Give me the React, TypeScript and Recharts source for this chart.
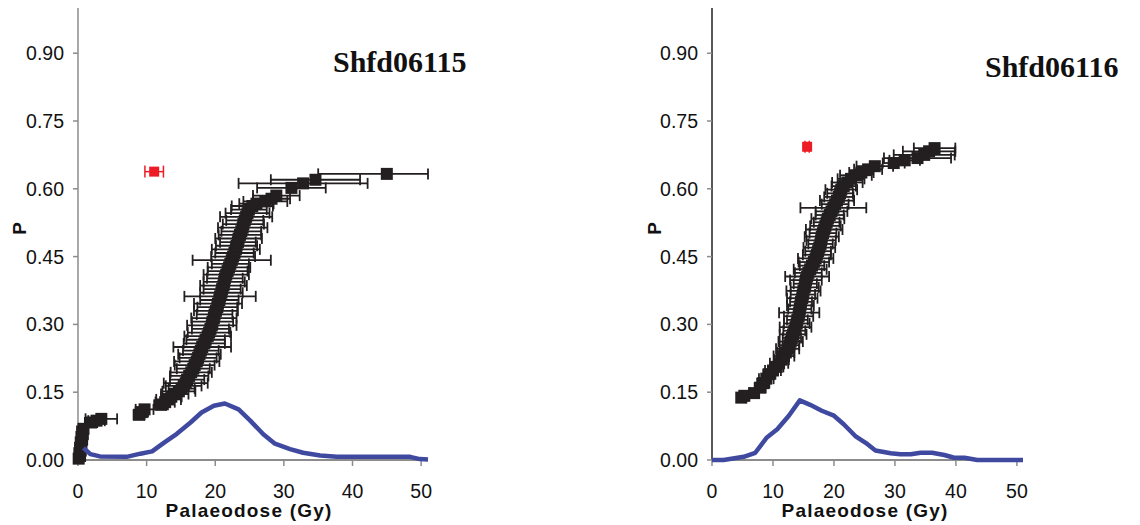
import React from 'react';
import { ScatterChart, Scatter, XAxis, YAxis, ErrorBar } from 'recharts';

// [dose (Gy), P, x error (± or [low, high])]
type Pt = [number, number, number | [number, number]];

const xTicks = [0, 10, 20, 30, 40, 50];
const yTicks = [0, 0.15, 0.3, 0.45, 0.6, 0.75, 0.9];

const points06115: Pt[] = [
  [0.1, 0.003, 0.1], [0.3, 0.009, 0.2], [0.2, 0.015, 0.2], [0.4, 0.021, 0.3], [0.3, 0.027, 0.3],
  [0.5, 0.033, 0.3], [0.4, 0.039, 0.3], [0.6, 0.045, 0.4], [0.5, 0.051, 0.4], [0.7, 0.057, 0.5],
  [0.6, 0.063, 0.5], [0.8, 0.069, 0.6],
  [1.9, 0.083, 0.9], [2.7, 0.087, 1.2], [3.4, 0.091, 2.3],
  [8.9, 0.1, 0.8], [9.3, 0.106, 0.9], [9.7, 0.112, 1.3],
  [12.1, 0.122, 1.0], [12.7, 0.128, 1.4], [13.2, 0.134, 1.8], [13.6, 0.14, 1.5], [14.1, 0.146, 2.0],
  [14.7, 0.152, 2.4], [15.1, 0.158, 1.9], [15.4, 0.164, 2.6], [15.7, 0.17, 3.2], [15.9, 0.178, 2.5],
  [16.2, 0.186, 2.8], [16.5, 0.194, 3.0], [16.8, 0.202, 2.4], [17.0, 0.21, 2.9], [17.3, 0.218, 3.3],
  [17.5, 0.226, 2.7], [17.7, 0.234, 3.1], [17.9, 0.242, 2.6], [18.1, 0.25, 4.2], [18.4, 0.258, 3.0],
  [18.6, 0.266, 2.8], [18.9, 0.274, 3.4], [19.1, 0.282, 3.1], [19.3, 0.29, 2.7], [19.5, 0.298, 3.6],
  [19.6, 0.306, 3.0], [19.8, 0.314, 3.3], [19.9, 0.322, 2.6], [20.1, 0.33, 3.2], [20.3, 0.338, 2.9],
  [20.4, 0.346, 3.5], [20.6, 0.354, 2.8], [20.7, 0.362, 5.2], [20.9, 0.37, 3.1], [21.0, 0.378, 2.7],
  [21.2, 0.386, 3.4], [21.3, 0.394, 3.0], [21.4, 0.402, 2.6], [21.6, 0.41, 3.3], [21.8, 0.418, 2.9],
  [22.0, 0.426, 3.1], [22.2, 0.434, 2.7], [22.4, 0.442, 5.7], [22.6, 0.45, 3.2], [22.8, 0.458, 2.8],
  [23.0, 0.466, 3.5], [23.1, 0.474, 3.0], [23.3, 0.482, 2.6], [23.4, 0.49, 3.4], [23.6, 0.498, 3.1],
  [23.8, 0.506, 2.9], [24.0, 0.514, 3.6], [24.1, 0.522, 3.0], [24.3, 0.53, 2.7], [24.5, 0.538, 3.8],
  [24.7, 0.546, 3.2], [24.9, 0.554, 2.6], [25.4, 0.562, 3.0], [26.0, 0.567, 2.5], [27.3, 0.572, 3.2],
  [28.2, 0.578, 2.7], [28.9, 0.585, 3.4], [31.1, 0.602, 5.0], [32.8, 0.612, 9.4], [34.6, 0.62, 6.5],
  [45.0, 0.633, [10, 6]],
];

const points06116: Pt[] = [
  [4.8, 0.138, 0.7], [5.3, 0.142, 0.6], [6.9, 0.148, 0.7], [7.9, 0.16, 0.9], [8.4, 0.17, 1.0],
  [8.9, 0.18, 1.2], [9.4, 0.19, 1.0], [10.0, 0.198, 1.3], [10.6, 0.206, 1.1], [11.0, 0.214, 1.5],
  [11.4, 0.222, 1.2], [11.8, 0.23, 1.7], [12.1, 0.238, 1.4], [12.4, 0.246, 1.9], [12.7, 0.254, 1.6],
  [12.9, 0.262, 2.0], [13.1, 0.27, 1.5], [13.3, 0.278, 2.2], [13.5, 0.286, 1.8], [13.7, 0.294, 2.6],
  [13.9, 0.302, 2.1], [14.0, 0.31, 1.7], [14.2, 0.318, 2.4], [14.3, 0.326, 3.3], [14.4, 0.334, 1.9],
  [14.5, 0.342, 2.2], [14.6, 0.35, 1.8], [14.8, 0.358, 2.5], [14.9, 0.366, 2.0], [15.0, 0.374, 2.8],
  [15.2, 0.382, 2.3], [15.3, 0.39, 1.9], [15.4, 0.398, 2.6], [15.6, 0.406, 3.6], [15.8, 0.414, 2.2],
  [16.1, 0.422, 2.7], [16.4, 0.43, 2.0], [16.7, 0.438, 2.5], [17.0, 0.446, 2.9], [17.2, 0.454, 2.3],
  [17.4, 0.462, 2.1], [17.6, 0.47, 2.6], [17.8, 0.478, 2.0], [17.9, 0.486, 2.4], [18.0, 0.494, 2.8],
  [18.2, 0.502, 2.2], [18.4, 0.51, 3.0], [18.6, 0.518, 2.5], [18.8, 0.526, 2.1], [19.0, 0.534, 2.7],
  [19.3, 0.542, 2.3], [19.6, 0.55, 2.6], [19.9, 0.558, 5.4], [20.2, 0.566, 2.2], [20.5, 0.574, 2.8],
  [20.8, 0.582, 2.4], [21.0, 0.59, 2.1], [21.2, 0.598, 2.6], [21.6, 0.606, 2.0], [22.2, 0.614, 2.5],
  [22.8, 0.622, 2.2], [23.6, 0.63, 2.6], [24.5, 0.636, 2.0], [25.6, 0.643, 2.3], [26.7, 0.65, 3.0],
  [29.8, 0.657, 1.8], [31.6, 0.663, 2.5], [33.7, 0.668, 5.5], [34.8, 0.675, 5.0], [35.6, 0.683, 4.3],
  [36.5, 0.69, 3.4],
];

const outlier06115: Pt[] = [[11.1, 0.638, 1.35]];
const outlier06116: Pt[] = [[15.6, 0.693, 0.35]];

// probability density curves
const curve06115: [number, number][] = [
  [0.8, 0.027], [1.8, 0.013], [3.2, 0.008], [7.1, 0.007], [9.1, 0.014], [10.8, 0.019], [12.5, 0.038],
  [14.4, 0.058], [16.4, 0.083], [18.0, 0.105], [19.8, 0.12], [21.4, 0.125], [23.4, 0.112], [25.1, 0.087],
  [27.0, 0.057], [28.7, 0.036], [30.9, 0.024], [32.8, 0.016], [35.3, 0.01], [37.7, 0.007], [40.1, 0.007],
  [48.4, 0.007], [49.8, 0.002], [51.0, 0.001],
];
const curve06116: [number, number][] = [
  [0, 0], [1.9, 0], [5.2, 0.007], [7.1, 0.016], [9.0, 0.05], [10.7, 0.068], [12.6, 0.098], [14.4, 0.132],
  [16.1, 0.122], [18.0, 0.109], [20.0, 0.098], [21.6, 0.079], [23.5, 0.053], [25.2, 0.038], [26.8, 0.021],
  [29.3, 0.015], [30.9, 0.0126], [32.6, 0.0126], [34.2, 0.016], [36.1, 0.016], [38.1, 0.011], [39.7, 0.005],
  [41.4, 0.005], [43.5, 0], [51.0, 0],
];

const toRows = (pts: Pt[]) => pts.map(([x, p, e]) => ({ x, p, e }));
const toCurve = (c: [number, number][]) => c.map(([x, p]) => ({ x, p }));

const square = (color: string, s: number) => (props: any) => (
  <rect x={props.cx - s / 2} y={props.cy - s / 2} width={s} height={s} fill={color} />
);

const tickFont = { fill: '#111', fontSize: 19.5, fontFamily: '"Liberation Sans", Arial, sans-serif' };

interface PanelProps {
  left: number;
  width: number;
  right: number;
  pts: Pt[];
  outlier: Pt[];
  curve: [number, number][];
  yAxisColor: string;
}

const Panel: React.FC<PanelProps> = ({ left, width, right, pts, outlier, curve, yAxisColor }) => (
  <div style={{ position: 'absolute', left, top: 0 }}>
    <ScatterChart width={width} height={525} margin={{ top: 8, right, bottom: 0, left: 0 }}>
      <XAxis
        type="number"
        dataKey="x"
        domain={[0, 51]}
        ticks={xTicks}
        interval={0}
        height={65}
        tickSize={6}
        tickMargin={18}
        axisLine={{ stroke: '#8c8c8c', strokeWidth: 2 }}
        tickLine={{ stroke: '#8c8c8c', strokeWidth: 1.5 }}
        tick={tickFont}
      />
      <YAxis
        type="number"
        dataKey="p"
        domain={[0, 1]}
        ticks={yTicks}
        interval={0}
        width={78}
        tickSize={5}
        tickMargin={9}
        tickFormatter={(v: number) => v.toFixed(2)}
        axisLine={{ stroke: yAxisColor, strokeWidth: 1.5 }}
        tickLine={{ stroke: '#8c8c8c', strokeWidth: 1.5 }}
        tick={tickFont}
      />
      <Scatter data={toRows(pts)} shape={square('#231f20', 12)} isAnimationActive={false}>
        <ErrorBar dataKey="e" direction="x" width={5.5} stroke="#231f20" strokeWidth={1.8} isAnimationActive={false} />
      </Scatter>
      <Scatter data={toRows(outlier)} shape={square('#ed1c24', 10)} isAnimationActive={false}>
        <ErrorBar dataKey="e" direction="x" width={6} stroke="#ed1c24" strokeWidth={1.5} isAnimationActive={false} />
      </Scatter>
      <Scatter
        data={toCurve(curve)}
        line={{ stroke: '#4049a0', strokeWidth: 4.5, strokeLinejoin: 'round', fill: 'none' }}
        lineJointType="linear"
        shape={() => <g />}
        isAnimationActive={false}
      />
    </ScatterChart>
  </div>
);

const labelFont = { fontFamily: '"Liberation Sans", Arial, sans-serif', fontWeight: 700, fontSize: 19 };
const titleFont = { fontFamily: '"Liberation Serif", "Times New Roman", serif', fontWeight: 700, fontSize: 30 };

export default function App() {
  return (
    <div style={{ position: 'absolute', left: 0, top: 0, width: 1140, height: 525, background: '#fff' }}>
      <Panel left={0} width={480} right={52} pts={points06115} outlier={outlier06115} curve={curve06115} yAxisColor="#8c8c8c" />
      <Panel left={634} width={506} right={117} pts={points06116} outlier={outlier06116} curve={curve06116} yAxisColor="#222" />
      <svg width={1140} height={525} style={{ position: 'absolute', left: 0, top: 0, pointerEvents: 'none' }}>
        <text x={333} y={72} style={titleFont} fill="#111">Shfd06115</text>
        <text x={985} y={77} style={titleFont} fill="#111">Shfd06116</text>
        <text x={249} y={517} textAnchor="middle" letterSpacing={1.2} style={labelFont} fill="#111">Palaeodose (Gy)</text>
        <text x={865} y={517} textAnchor="middle" letterSpacing={1.2} style={labelFont} fill="#111">Palaeodose (Gy)</text>
        <text x={25.6} y={228.5} textAnchor="middle" transform="rotate(-90, 25.6, 228.5)" style={labelFont} fill="#111">P</text>
        <text x={660.8} y={228.5} textAnchor="middle" transform="rotate(-90, 660.8, 228.5)" style={labelFont} fill="#111">P</text>
      </svg>
    </div>
  );
}
